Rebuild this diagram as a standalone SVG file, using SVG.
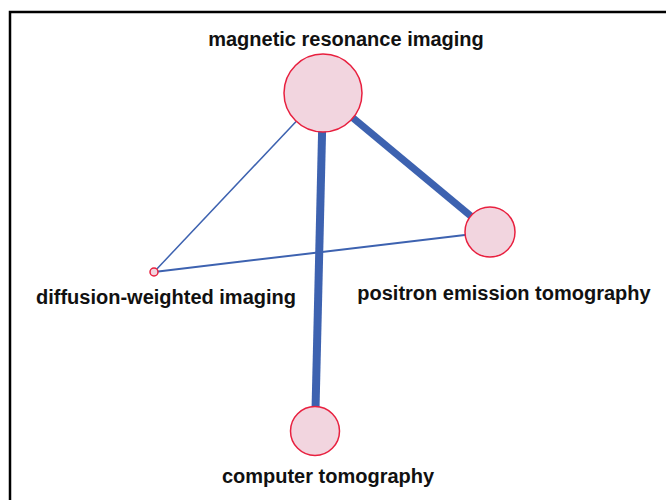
<svg xmlns="http://www.w3.org/2000/svg" width="666" height="500" viewBox="0 0 666 500">
<style>
.node{fill:#f2d5df;stroke:#e8203f;stroke-width:1.5}
.lbl{font-family:"Liberation Sans",Arial,sans-serif;font-weight:bold;font-size:20px;fill:#111;text-anchor:middle}
.edge{stroke:#3d62b0;fill:none;stroke-linecap:butt}
</style>
<rect width="666" height="500" fill="#fff"/>
<path d="M10 500 V12 H666" fill="none" stroke="#000" stroke-width="2.5"/>
<g id="connectors">
<line class="edge" x1="323" y1="93" x2="315" y2="431" stroke-width="8"/>
<line class="edge" x1="323" y1="93" x2="490" y2="232" stroke-width="7"/>
<line class="edge" x1="323" y1="93" x2="154" y2="272" stroke-width="1.5"/>
<line class="edge" x1="154" y1="272" x2="490" y2="232" stroke-width="2"/>
</g>
<g id="mri">
<circle class="node" cx="323" cy="93" r="39"/>
<text class="lbl" x="346" y="46">magnetic resonance imaging</text>
</g>
<g id="pet">
<circle class="node" cx="490" cy="232" r="25"/>
<text class="lbl" x="504" y="300">positron emission tomography</text>
</g>
<g id="dwi">
<circle class="node" cx="154" cy="272" r="4"/>
<text class="lbl" x="166" y="304">diffusion-weighted imaging</text>
</g>
<g id="ct">
<circle class="node" cx="315" cy="431" r="24.5"/>
<text class="lbl" x="328" y="483">computer tomography</text>
</g>
</svg>
